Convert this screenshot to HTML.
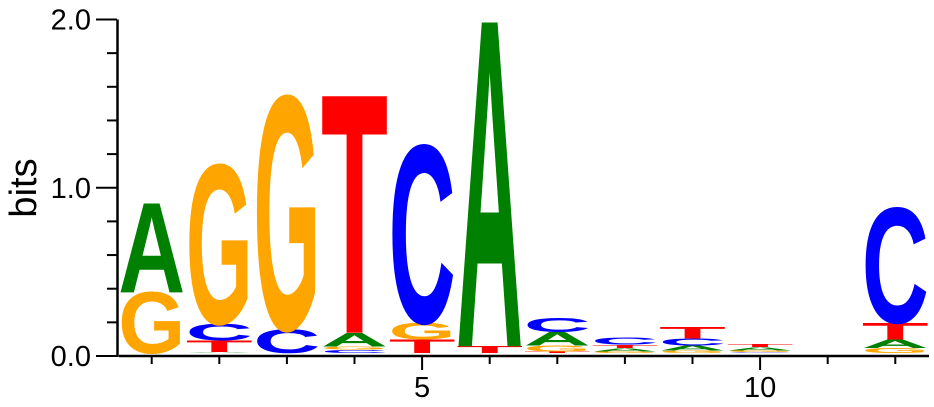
<!DOCTYPE html>
<html><head><meta charset="utf-8"><style>
html,body{margin:0;padding:0;background:#fff;width:934px;height:407px;overflow:hidden;}
svg{display:block;font-family:"Liberation Sans",sans-serif;}
</style></head><body>
<svg id="chart" width="934" height="407" viewBox="0 0 934 407" xmlns="http://www.w3.org/2000/svg" overflow="hidden">
<g id="axes"></g><g id="letters"></g>
</svg>
<script>
const positions = [1,2,3,4,5,6,7,8,9,10,11,12];
const bitsA = [0.53,0.005,0.00,0.08,0.00,1.93,0.08,0.02,0.03,0.02,0.0,0.05];
const bitsC = [0.00,0.10,0.14,0.02,1.05,0.00,0.085,0.04,0.04,0.005,0.0,0.68];
const bitsG = [0.36,0.94,1.38,0.02,0.10,0.00,0.035,0.01,0.015,0.01,0.0,0.03];
const bitsT = [0.00,0.07,0.00,1.41,0.08,0.04,0.01,0.02,0.07,0.02,0.0,0.10];
const yTicks = [0,0.2,0.4,0.6,0.8,1.0,1.2,1.4,1.6,1.8,2.0];
const yLabels = ["0.0","1.0","2.0"];
const xLabels = [5,10];

const NS="http://www.w3.org/2000/svg";
const y0=356, pxPerBit=(356-19.5)/2;
const x1=151.7, step=67.6;
function sy(v){return y0-v*pxPerBit;}
function sx(p){return x1+(p-1)*step;}
const colors={A:"#008000",C:"#0000ff",G:"#ffa500",T:"#ff0000"};
function mk(tag,attrs,parent){const e=document.createElementNS(NS,tag);for(const k in attrs)e.setAttribute(k,attrs[k]);parent.appendChild(e);return e;}
const ax=document.getElementById('axes'), lg=document.getElementById('letters');

const yl=mk('line',{x1:117.5,y1:sy(2),x2:117.5,y2:y0+1,stroke:'#000','stroke-width':2.5},ax);


yTicks.forEach(v=>{
  const major=Math.abs(v-Math.round(v))<1e-9;
  const t=mk('line',{x1:major?96:107,x2:117,y1:sy(v),y2:sy(v),stroke:'#000','stroke-width':2},ax);
  
  
});
yLabels.forEach(s=>{
  const t=mk('text',{x:91,y:sy(parseFloat(s))+10,'text-anchor':'end','font-size':29,fill:'#000'},ax);
  t.textContent=s;
  
  
});
const yt=mk('text',{x:0,y:0,'font-size':38,'text-anchor':'middle',transform:'translate(36,188) rotate(-90)'},ax);
yt.textContent='bits';



const xl=mk('line',{x1:119,y1:y0,x2:929,y2:y0,stroke:'#000','stroke-width':2.5},ax);


positions.forEach(p=>{
  const major=xLabels.indexOf(p)>=0;
  const t=mk('line',{x1:sx(p),x2:sx(p),y1:y0,y2:y0+(major?14:8),stroke:'#000','stroke-width':2},ax);
  
  
});
xLabels.forEach(p=>{
  const t=mk('text',{x:sx(p),y:397,'text-anchor':'middle','font-size':29,fill:'#000'},ax);
  t.textContent=String(p);
  
  
});

const W=67, CAP=69;
positions.forEach((p,i)=>{
  const items=[['A',bitsA[i]],['C',bitsC[i]],['G',bitsG[i]],['T',bitsT[i]]].filter(d=>d[1]>0).sort((a,b)=>a[1]-b[1]);
  let acc=0;
  items.forEach(([L,v])=>{
    const h=v*pxPerBit;
    const yb=y0-3-acc*pxPerBit;
    const g=mk('g',{transform:`translate(${sx(p)-W/2},${yb}) scale(1,${h/CAP})`},lg);
    const t=mk('text',{x:0,y:0,'font-size':100,'font-weight':'bold',fill:colors[L],textLength:W,lengthAdjust:'spacingAndGlyphs'},g);
    t.textContent=L;
    
    
    acc+=v;
  });
});
</script>
</body></html>
